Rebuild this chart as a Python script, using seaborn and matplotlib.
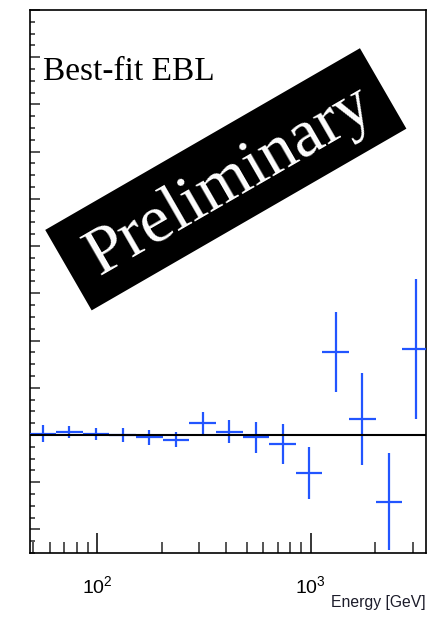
import numpy as np
import pandas as pd
import matplotlib
matplotlib.use("Agg")
import matplotlib.pyplot as plt
from matplotlib import font_manager, transforms
from matplotlib.patches import Rectangle
from matplotlib.ticker import LogLocator, MultipleLocator, NullFormatter
import seaborn as sns

# Energy bins (GeV): edges of the 15 spectral bins
bin_edges_gev = [47.9, 63.8, 85.1, 113.5, 151.4, 201.8, 269.2, 358.9,
                 478.6, 638.3, 851.1, 1135.0, 1514.0, 2018.0, 2692.0, 3589.0]
# Fit residual per bin and its 1-sigma uncertainty
residual = [0.003, 0.007, 0.002, 0.000, -0.005, -0.010, 0.025, 0.007,
            -0.005, -0.019, -0.080, 0.175, 0.034, -0.141, 0.182]
residual_err = [0.018, 0.013, 0.012, 0.014, 0.016, 0.016, 0.024, 0.025,
                0.033, 0.042, 0.055, 0.085, 0.098, 0.103, 0.149]

x_limits = (48, 3470)
y_limits = (-0.25, 0.9)
title_text = "Best-fit EBL"
stamp_text = "Preliminary"
x_label = "Energy [GeV]"

BLUE = "#2255ff"


def has_font(name):
    try:
        font_manager.findfont(name, fallback_to_default=False)
        return True
    except Exception:
        return False


sns.set_theme(style="ticks")
plt.rcParams["font.family"] = ["Liberation Sans", "DejaVu Sans"]
serif = ["Liberation Serif", "DejaVu Serif"]
if has_font("Liberation Sans Narrow"):
    label_family, label_size = ["Liberation Sans Narrow", "Liberation Sans"], 13.5
else:
    label_family, label_size = ["Liberation Sans", "DejaVu Sans"], 11.3

edges = np.array(bin_edges_gev)
df = pd.DataFrame({
    "lo": edges[:-1],
    "hi": edges[1:],
    "residual": residual,
    "err": residual_err,
})
df["energy"] = np.sqrt(df["lo"] * df["hi"])

W, H = 446, 621
fig = plt.figure(figsize=(W / 100, H / 100), dpi=100)
ax = fig.add_axes([29.5 / W, 68 / H, 396.5 / W, 543 / H])

# residual points with bin-width horizontal bars
ax.errorbar(df["energy"], df["residual"],
            xerr=[df["energy"] - df["lo"], df["hi"] - df["energy"]],
            yerr=df["err"], fmt="none", ecolor=BLUE, elinewidth=1.6,
            capsize=0, zorder=3)
ax.axhline(0, color="black", lw=1.5, zorder=4)

ax.set_xscale("log")
ax.set_xlim(*x_limits)
ax.set_ylim(*y_limits)
ax.xaxis.set_major_locator(LogLocator(base=10))
ax.xaxis.set_minor_locator(LogLocator(base=10, subs=range(2, 10)))
ax.xaxis.set_minor_formatter(NullFormatter())
ax.yaxis.set_major_locator(MultipleLocator(0.1))
ax.yaxis.set_minor_locator(MultipleLocator(0.025))

ax.tick_params(axis="x", which="major", direction="in", length=14.4,
               width=1.1, pad=16, labelsize=14, top=False, colors="black")
ax.tick_params(axis="x", which="minor", direction="in", length=7.7,
               width=1.1, top=False)
ax.tick_params(axis="y", which="major", direction="in", length=7.2,
               width=1.1, labelleft=False, right=False)
ax.tick_params(axis="y", which="minor", direction="in", length=3.6,
               width=1.1, right=False)
for s in ax.spines.values():
    s.set_linewidth(1.2)
    s.set_color("black")

ax.set_xlabel(x_label, family=label_family, fontsize=label_size,
              color="#1c1c2a", ha="right")
ax.xaxis.set_label_coords(1.0, -0.077)

ax.text(0.035, 0.871, title_text, transform=ax.transAxes, family=serif,
        fontsize=24, ha="left", va="baseline", color="black")

# rotated "Preliminary" stamp, positioned in pixel coordinates
cx, cy = 225.8, H - 179.3
bw, bh = 363.4, 92.9
stamp = Rectangle((cx - bw / 2, cy - bh / 2), bw, bh,
                  transform=transforms.Affine2D().rotate_deg_around(cx, cy, 30),
                  facecolor="black", edgecolor="none", zorder=5)
fig.add_artist(stamp)
tx, ty = cx + 3.5, cy - 2.0
fig.text(tx / W, ty / H, stamp_text, rotation=30, rotation_mode="anchor",
         ha="center", va="center", color="white", fontsize=49,
         family=serif, zorder=6)

fig.savefig("out.png", dpi=100)
